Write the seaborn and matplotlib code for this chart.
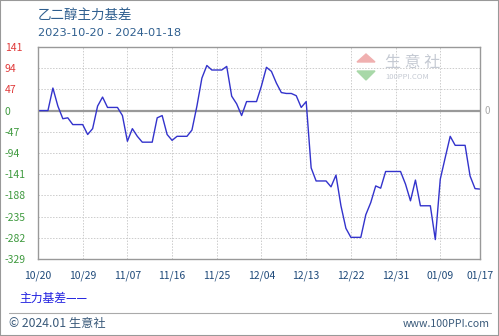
import matplotlib
matplotlib.use("Agg")
import matplotlib.pyplot as plt
from matplotlib.patches import Rectangle, Polygon
import seaborn as sns
import pandas as pd

start_date = "2023-10-20"
basis_values = [0, 0, 0, 50, 10, -18, -16, -31, -31, -31,
                -53, -40, 10, 30, 7, 7, 7, -11, -68, -40,
                -57, -70, -70, -70, -16, -11, -53, -66, -57, -57,
                -57, -43, 10, 72, 100, 90, 90, 90, 98, 32,
                15, -11, 20, 20, 20, 55, 96, 87, 61, 40,
                38, 38, 33, 7, 20, -127, -156, -156, -156, -169,
                -143, -211, -261, -281, -281, -281, -231, -204, -167, -172,
                -135, -135, -135, -135, -163, -200, -154, -211, -211, -211,
                -286, -152, -104, -57, -77, -77, -77, -145, -173, -174]
x_tick_dates = ["2023-10-20", "2023-10-29", "2023-11-07", "2023-11-16", "2023-11-25",
                "2023-12-04", "2023-12-13", "2023-12-22", "2023-12-31", "2024-01-09", "2024-01-17"]
x_tick_labels = ["10/20", "10/29", "11/07", "11/16", "11/25", "12/04",
                 "12/13", "12/22", "12/31", "01/09", "01/17"]
y_ticks = [141, 94, 47, 0, -47, -94, -141, -188, -235, -282, -329]

title = "乙二醇主力基差"
subtitle = "2023-10-20 - 2024-01-18"
legend_label = "主力基差——"

sns.set_style("white")
plt.rcParams['font.family'] = ['Noto Sans CJK SC', 'DejaVu Sans']

df = pd.DataFrame({
    "date": pd.date_range(start_date, periods=len(basis_values), freq="D"),
    "value": basis_values,
})

W, H = 499, 336
fig = plt.figure(figsize=(W / 100, H / 100), dpi=100)
ax = fig.add_axes([38 / W, 1 - 259 / H, (480 - 38) / W, (259 - 47) / H])

sns.lineplot(data=df, x="date", y="value", ax=ax, color="#3333cc", linewidth=1.0)

ax.set_xlim(pd.Timestamp(x_tick_dates[0]), pd.Timestamp(x_tick_dates[-1]))
ax.set_ylim(-329, 141)
ax.set_xlabel("")
ax.set_ylabel("")

ax.set_yticks(y_ticks)
ax.set_yticklabels([str(v) for v in y_ticks])
ax.set_xticks([pd.Timestamp(d) for d in x_tick_dates])
ax.set_xticklabels(x_tick_labels)

ax.grid(True, color="#cccccc", linestyle=(0, (1.5, 1.5)), linewidth=0.7)
ax.axhline(0, color="#999999", linewidth=1.6, zorder=1)

for s in ax.spines.values():
    s.set_color("#999999")
    s.set_linewidth(1.0)

ax.tick_params(axis="y", length=0, pad=24, labelsize=7.5)
for lbl, v in zip(ax.get_yticklabels(), y_ticks):
    lbl.set_horizontalalignment("left")
    lbl.set_color("#e03a3a" if v > 0 else "#3f9a3f")
ax.tick_params(axis="x", length=0, pad=8, labelsize=7.5, labelcolor="#1f4a7a")

ax.text(1.01, 0, "0", transform=ax.get_yaxis_transform(), color="#aaaaaa",
        fontsize=7, va="center", ha="left")

# titles
fig.text(38 / W, 1 - 15 / H, title, fontsize=9.7, color="#2f5f8f", va="center", ha="left")
fig.text(38 / W, 1 - 33 / H, subtitle, fontsize=8.2, color="#2f5f8f", va="center", ha="left",
         family=["DejaVu Sans"])

# watermark
fig.text(385 / W, 1 - 62 / H, "生 意 社", fontsize=11.5, color="#c5cad3", va="center", ha="left")
fig.text(385 / W, 1 - 77 / H, "100PPI.COM", fontsize=5.5, color="#c5cad3", va="center", ha="left")
fig.patches.append(Polygon([[357 / W, 1 - 62 / H], [366 / W, 1 - 54 / H], [375 / W, 1 - 62 / H]],
                           closed=True, transform=fig.transFigure, color="#f0b0b0"))
fig.patches.append(Polygon([[357 / W, 1 - 71 / H], [366 / W, 1 - 80 / H], [375 / W, 1 - 71 / H]],
                           closed=True, transform=fig.transFigure, color="#a8d8a8"))

# legend
fig.text(19 / W, 1 - 298 / H, legend_label, fontsize=8.5, color="#2020e0", va="center", ha="left")

# footer
fig.add_artist(plt.Line2D([9 / W, 491 / W], [1 - 313 / H, 1 - 313 / H],
                          transform=fig.transFigure, color="#aaaaaa", linewidth=0.8))
fig.text(9 / W, 1 - 324 / H, "© 2024.01 生意社", fontsize=8.8, color="#3a5a7a", va="center", ha="left")
fig.text(490 / W, 1 - 324 / H, "www.100PPI.com", fontsize=7.6, color="#3a5a7a", va="center", ha="right")

fig.patches.append(Rectangle((0, 0), 1, 1, transform=fig.transFigure, fill=False,
                             edgecolor="#999999", linewidth=1.5))

fig.savefig("out.png", dpi=100)
